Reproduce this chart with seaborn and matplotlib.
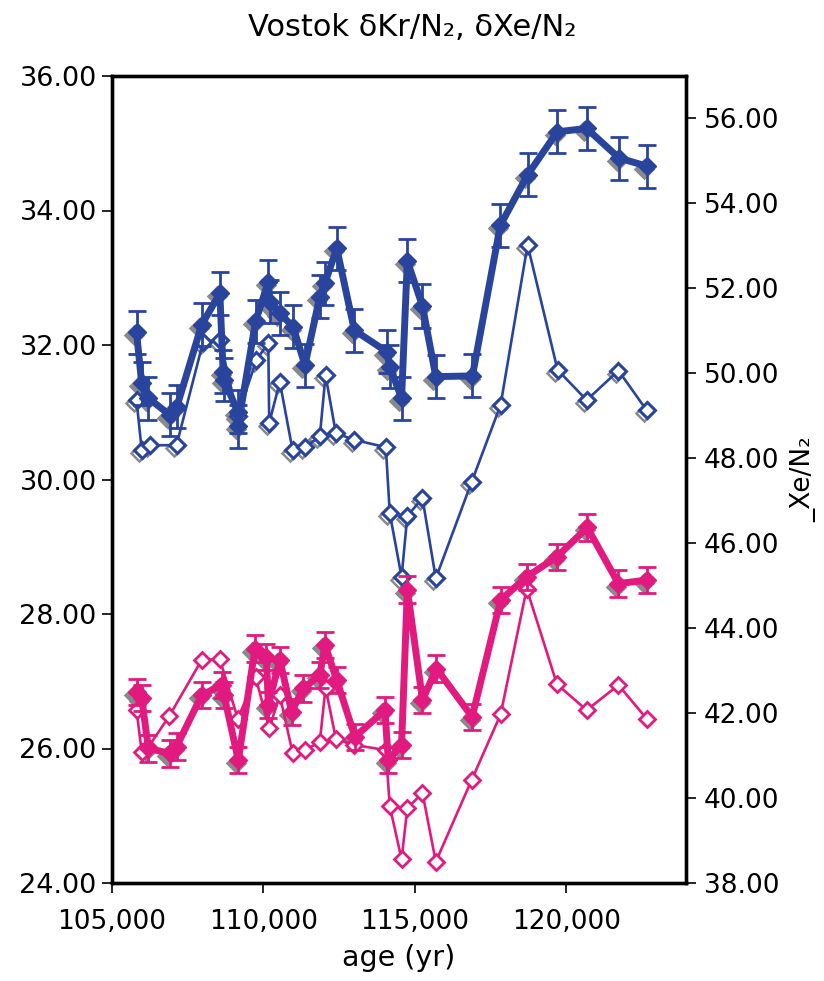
import numpy as np
import pandas as pd
import seaborn as sns
import matplotlib
matplotlib.use("Agg")
import matplotlib.pyplot as plt
from matplotlib.ticker import FuncFormatter, FixedLocator
from matplotlib.transforms import offset_copy

# --- data -------------------------------------------------------------
# delta Kr/N2 (left axis), filled series with analytical error bars
kr_age = [105810, 105980, 106200, 106910, 107140, 107960, 108560, 108670, 108700,
          109150, 109160, 109740, 110160, 110210, 110540, 110980, 111370, 111860,
          112030, 112420, 113000, 114070, 114170, 114560, 114750, 115250, 115690,
          116900, 117820, 118720, 119700, 120670, 121740, 122650]
kr_val = [32.19, 31.43, 31.21, 30.96, 31.08, 32.30, 32.77, 31.60, 31.48,
          31.01, 30.79, 32.35, 32.94, 32.64, 32.47, 32.27, 31.70, 32.72,
          32.92, 33.44, 32.22, 31.90, 31.68, 31.21, 33.25, 32.58, 31.53,
          31.54, 33.78, 34.53, 35.17, 35.22, 34.78, 34.66]
kr_err = 0.32

# second Kr/N2 series (left axis), open markers
kr2_age = [105810, 105980, 106250, 107130, 108010, 108560, 109150, 109770, 110160,
           110190, 110540, 110960, 111370, 111860, 112050, 112390, 112990, 114040,
           114170, 114560, 114750, 115250, 115690, 116870, 117830, 118720, 119710,
           120670, 121720, 122650]
kr2_val = [31.18, 30.44, 30.51, 30.51, 32.05, 32.07, 30.95, 31.78, 32.03,
           30.84, 31.45, 30.44, 30.48, 30.64, 31.55, 30.69, 30.59, 30.48,
           29.50, 28.55, 29.46, 29.72, 28.53, 29.96, 31.11, 33.49, 31.63,
           31.18, 31.62, 31.03]

# delta Xe/N2 (right axis), filled series with error bars
xe_age = [105810, 105980, 106200, 106910, 107130, 107960, 108620, 108700, 109170,
          109720, 110100, 110160, 110540, 110930, 111310, 111860, 112030, 112420,
          113020, 114010, 114120, 114560, 114750, 115250, 115710, 116890, 117830,
          118690, 119690, 120690, 121720, 122650]
xe_val = [42.50, 42.35, 41.17, 41.05, 41.21, 42.42, 42.66, 42.42, 40.89,
          43.52, 43.32, 42.19, 43.25, 42.03, 42.58, 42.89, 43.60, 42.78,
          41.44, 42.07, 40.89, 41.25, 44.91, 42.31, 43.05, 41.91, 44.66,
          45.21, 45.68, 46.37, 45.05, 45.13]
xe_err = 0.31

# second Xe/N2 series (right axis), open markers
xe2_age = [105810, 105980, 106200, 106890, 107960, 108560, 109150, 109740, 110190,
           110540, 110960, 111370, 111860, 112050, 112390, 112990, 114040, 114170,
           114560, 114750, 115250, 115690, 116870, 117830, 118690, 119690, 120670,
           121720, 122650]
xe2_val = [42.07, 41.09, 41.20, 41.93, 43.25, 43.27, 41.87, 42.85, 41.64,
           42.42, 41.07, 41.13, 41.32, 42.60, 41.40, 41.25, 41.13, 39.81,
           38.56, 39.76, 40.12, 38.50, 40.42, 41.97, 44.93, 42.68, 42.07,
           42.66, 41.87]

left_ticks = [24, 26, 28, 30, 32, 34, 36]
right_ticks = [38, 40, 42, 44, 46, 48, 50, 52, 54, 56]
x_ticks = [105000, 110000, 115000, 120000]

# --- style ------------------------------------------------------------
sns.set_theme(style="white")
plt.rcParams["font.family"] = ["DejaVu Sans"]

BLUE = "#29449c"
PINK = "#e2197e"
SHADOW = "#8a8a8a"

THICK_LW = 5.0
THIN_LW = 1.9
FILLED_MS = 9.0
OPEN_MS = 8.0

fig = plt.figure(figsize=(8.24, 9.81), dpi=100)
ax = fig.add_axes([112 / 824, 1 - 883 / 981, (686 - 112) / 824, (883 - 76) / 981])
ax2 = ax.twinx()


def shadow_markers(axis, xs, ys, ms, filled):
    tr = offset_copy(axis.transData, fig=fig, x=-2.5, y=-3, units="dots")
    axis.plot(xs, ys, linestyle="none", marker="D", markersize=ms,
              markerfacecolor=SHADOW if filled else "none",
              markeredgecolor=SHADOW, markeredgewidth=1.8,
              transform=tr, zorder=1)


# left axis: Kr/N2
df_kr = pd.DataFrame({"age": kr_age, "val": kr_val})
df_kr2 = pd.DataFrame({"age": kr2_age, "val": kr2_val})

shadow_markers(ax, kr2_age, kr2_val, OPEN_MS, False)
sns.lineplot(data=df_kr2, x="age", y="val", ax=ax, sort=False, estimator=None,
             color=BLUE, linewidth=THIN_LW, marker="D", markersize=OPEN_MS,
             markerfacecolor="white", markeredgecolor=BLUE,
             markeredgewidth=2.2, zorder=2)

shadow_markers(ax, kr_age, kr_val, FILLED_MS, True)
ax.errorbar(kr_age, kr_val, yerr=kr_err, fmt="none", ecolor=BLUE,
            elinewidth=2.0, capsize=6.5, capthick=2.0, zorder=3)
sns.lineplot(data=df_kr, x="age", y="val", ax=ax, sort=False, estimator=None,
             color=BLUE, linewidth=THICK_LW, marker="D", markersize=FILLED_MS,
             markerfacecolor=BLUE, markeredgecolor=BLUE,
             markeredgewidth=1.0, zorder=4)

# right axis: Xe/N2
df_xe = pd.DataFrame({"age": xe_age, "val": xe_val})
df_xe2 = pd.DataFrame({"age": xe2_age, "val": xe2_val})

sns.lineplot(data=df_xe2, x="age", y="val", ax=ax2, sort=False, estimator=None,
             color=PINK, linewidth=THIN_LW, marker="D", markersize=OPEN_MS,
             markerfacecolor="white", markeredgecolor=PINK,
             markeredgewidth=2.0, zorder=2)

shadow_markers(ax2, xe_age, xe_val, FILLED_MS, True)
ax2.errorbar(xe_age, xe_val, yerr=xe_err, fmt="none", ecolor=PINK,
             elinewidth=2.0, capsize=6.5, capthick=2.0, zorder=3)
sns.lineplot(data=df_xe, x="age", y="val", ax=ax2, sort=False, estimator=None,
             color=PINK, linewidth=THICK_LW, marker="D", markersize=FILLED_MS,
             markerfacecolor=PINK, markeredgecolor=PINK,
             markeredgewidth=1.0, zorder=4)

# --- axes -------------------------------------------------------------
ax.set_xlim(105000, 123950)
ax.set_ylim(24, 36)
ax2.set_ylim(38, 57)

ax.xaxis.set_major_locator(FixedLocator(x_ticks))
ax.yaxis.set_major_locator(FixedLocator(left_ticks))
ax2.yaxis.set_major_locator(FixedLocator(right_ticks))
ax.xaxis.set_major_formatter(FuncFormatter(lambda v, p: f"{v:,.0f}"))
ax.yaxis.set_major_formatter(FuncFormatter(lambda v, p: f"{v:.2f}"))
ax2.yaxis.set_major_formatter(FuncFormatter(lambda v, p: f"{v:.2f}"))

for a in (ax, ax2):
    for s in a.spines.values():
        s.set_color("black")
        s.set_linewidth(2.4)
    a.grid(False)
    a.set_xlabel("")
    a.set_ylabel("")

ax.tick_params(axis="y", direction="out", length=7, width=1.2, color="black",
               labelsize=19.5, pad=4, left=True, labelcolor="black")
ax.tick_params(axis="x", direction="out", length=7, width=1.2, color="black",
               labelsize=19, pad=12, bottom=True, labelcolor="black")
ax2.tick_params(axis="y", direction="out", length=7, width=1.2, color="black",
                labelsize=19, pad=6, right=True, labelcolor="black")

ax.set_xlabel("age (yr)", fontsize=20.5, color="black", labelpad=6)
ax2.set_ylabel("_Xe/N\u2082", fontsize=19, color="black", labelpad=8)
fig.text(0.5, 1 - 28 / 981, "Vostok \u03b4Kr/N\u2082, \u03b4Xe/N\u2082",
         ha="center", va="center", fontsize=22, color="black")

fig.savefig("out.png", dpi=100, facecolor="white")
